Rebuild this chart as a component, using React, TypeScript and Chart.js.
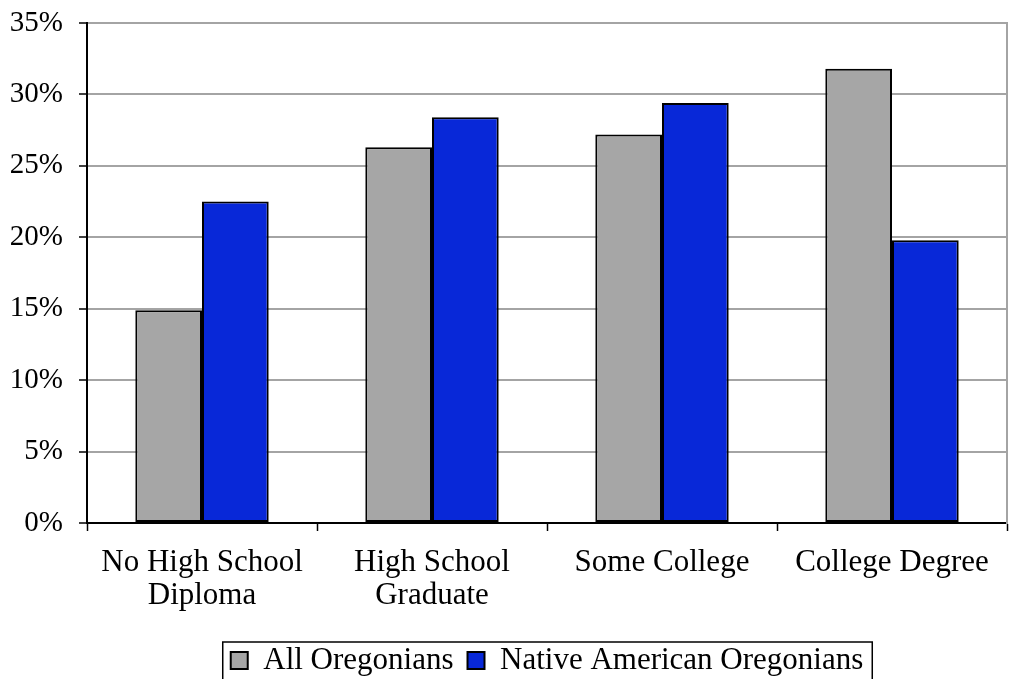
import React, { useEffect, useRef } from "react";
import { Chart, registerables } from "chart.js";

Chart.register(...registerables);

// Educational attainment, share of adults (%)
const categories: (string | string[])[] = [
  ["No High School", "Diploma"],
  ["High School", "Graduate"],
  "Some College",
  "College Degree",
];
const allOregonians = [14.9, 26.3, 27.2, 31.8];
const nativeAmericanOregonians = [22.5, 28.4, 29.4, 19.8];
const seriesNames = ["All Oregonians", "Native American Oregonians"];
const yTicks = [0, 5, 10, 15, 20, 25, 30, 35];

const FONT = "'Liberation Serif', 'Times New Roman', serif";
const GRID = "#a4a4a4";

// Frames the legend row with a thin black box.
const legendFrame = {
  id: "legendFrame",
  afterDraw(chart: any) {
    const lg = chart.legend;
    if (!lg || !lg.legendHitBoxes || !lg.legendHitBoxes.length) return;
    const boxes = lg.legendHitBoxes;
    const left = Math.min(...boxes.map((b: any) => b.left)) - 8;
    const right = Math.max(...boxes.map((b: any) => b.left + b.width)) + 9;
    const top = Math.min(...boxes.map((b: any) => b.top)) - 3;
    const ctx = chart.ctx;
    ctx.save();
    ctx.strokeStyle = "#000";
    ctx.lineWidth = 1.5;
    ctx.strokeRect(left, top, right - left, chart.height + 10 - top);
    ctx.restore();
  },
};

export default function App() {
  const ref = useRef<HTMLCanvasElement | null>(null);

  useEffect(() => {
    if (!ref.current) return;
    const chart = new Chart(ref.current, {
      type: "bar",
      data: {
        labels: categories,
        datasets: [
          {
            label: seriesNames[0],
            data: allOregonians,
            backgroundColor: "#a6a6a6",
            borderColor: "#000",
            borderWidth: 2,
            borderSkipped: false,
          },
          {
            label: seriesNames[1],
            data: nativeAmericanOregonians,
            backgroundColor: "#0828d8",
            borderColor: "#000",
            borderWidth: 2,
            borderSkipped: false,
          },
        ],
      },
      options: {
        animation: false,
        responsive: true,
        maintainAspectRatio: false,
        layout: { padding: { left: 0, right: 3, top: 23, bottom: -7 } },
        datasets: { bar: { categoryPercentage: 0.58, barPercentage: 1 } },
        plugins: {
          tooltip: { enabled: false },
          legend: {
            position: "bottom",
            fullSize: false,
            labels: {
              color: "#000",
              font: { family: FONT, size: 31 },
              boxWidth: 17,
              boxHeight: 17,
              padding: 14,
            },
          },
        },
        scales: {
          x: {
            grid: {
              offset: true,
              drawOnChartArea: false,
              drawTicks: true,
              tickLength: 8,
              tickColor: "#000",
              tickWidth: 1.5,
            },
            border: { color: "#000", width: 2 },
            ticks: {
              color: "#000",
              font: { family: FONT, size: 31, lineHeight: 1.07 },
              maxRotation: 0,
              autoSkip: false,
              padding: 15,
            },
            afterFit(scale: any) {
              scale.height = 108;
            },
          },
          y: {
            min: 0,
            max: 35,
            afterBuildTicks(scale: any) {
              scale.ticks = yTicks.map((v) => ({ value: v }));
            },
            grid: {
              color: GRID,
              lineWidth: 2,
              tickLength: 8,
              tickColor: "#000",
              tickWidth: 1.5,
            },
            border: { color: "#000", width: 2 },
            ticks: {
              color: "#000",
              font: { family: FONT, size: 29 },
              padding: 16,
              callback: (v: any) => `${v}%`,
            },
            afterFit(scale: any) {
              scale.width = 87;
              scale.paddingTop = 0;
              scale.paddingBottom = 0;
            },
          },
          frame: {
            type: "linear",
            position: "right",
            display: true,
            grid: { display: false, drawTicks: false },
            ticks: { display: false },
            border: { display: true, color: GRID, width: 2 },
            afterFit(scale: any) {
              scale.width = 0;
            },
          },
        },
      },
      plugins: [legendFrame],
    } as any);
    return () => chart.destroy();
  }, []);

  return (
    <div
      style={{
        position: "fixed",
        left: 0,
        top: 0,
        width: 1010,
        height: 679,
        background: "#fff",
      }}
    >
      <canvas ref={ref} />
    </div>
  );
}
